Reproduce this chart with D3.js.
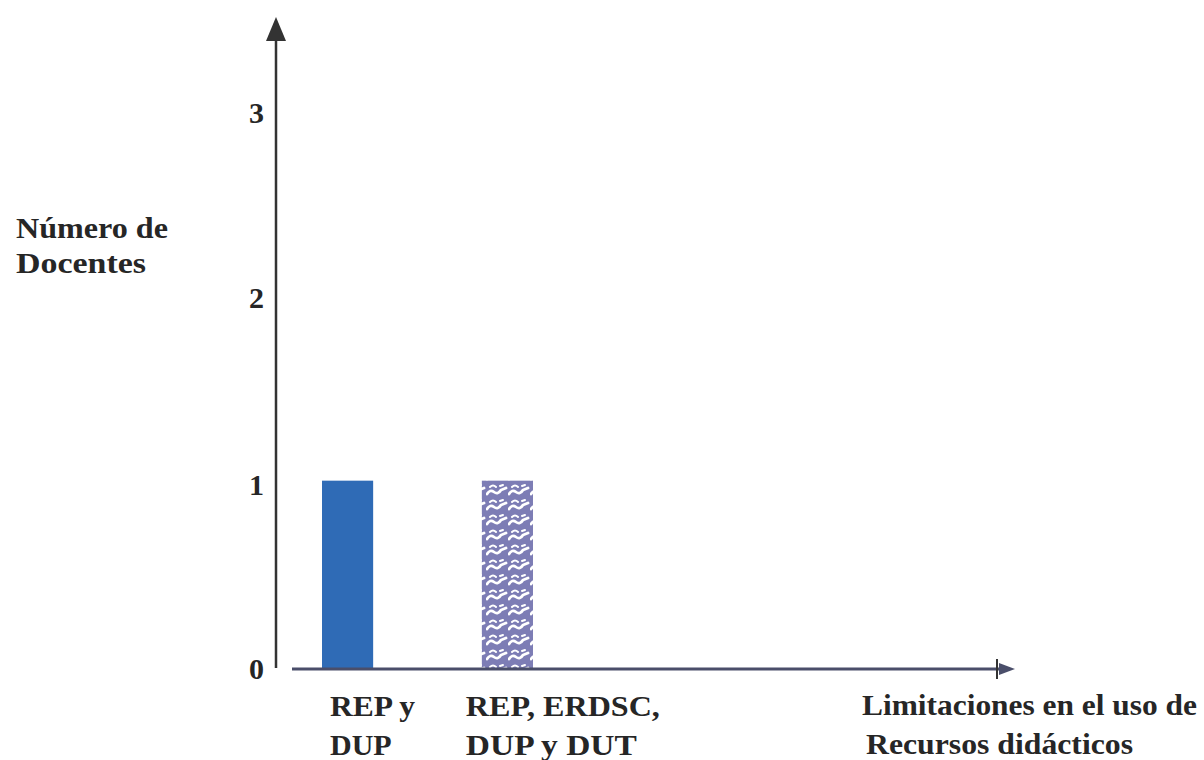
<!DOCTYPE html>
<html><head><meta charset="utf-8">
<script src="https://cdn.jsdelivr.net/npm/d3@7"></script>
<style>body{margin:0;background:#fff}svg{display:block}text{font-family:"Liberation Serif","Times New Roman",serif;font-weight:bold;fill:#262626}</style>
</head><body>
<svg id="c" width="1204" height="760"></svg>
<script>
const categories = [["REP y","DUP"],["REP, ERDSC,","DUP y DUT"]];
const categoryKeys = ["REP y DUP","REP, ERDSC, DUP y DUT"];
const values = [1, 1];
const yTicks = [0, 1, 2, 3];
const yTitle = ["Número de","Docentes"];
const xTitle = ["Limitaciones en el uso de","Recursos didácticos"];

const svg = d3.select("#c");
const defs = svg.append("defs");
const pat = defs.append("pattern").attr("id","wave").attr("patternUnits","userSpaceOnUse")
  .attr("width",22).attr("height",15).attr("x",2).attr("y",3);
pat.append("rect").attr("width",22).attr("height",15).attr("fill","#7d7db5");
pat.append("path").attr("d","M1,11 q3,-5 7,-2 t7,-2 l5,-2").attr("fill","none").attr("stroke","#fff").attr("stroke-width",2.8).attr("stroke-linecap","round");
pat.append("path").attr("d","M4,4 q3,-3 6,0 M14,3 l3,-1").attr("fill","none").attr("stroke","#fff").attr("stroke-width",2).attr("stroke-linecap","round");

const y = d3.scaleLinear().domain([0,3]).range([668,106]);
const x = d3.scaleBand().domain(categoryKeys).range([322,533]).paddingInner(0.68).paddingOuter(0);

const colors = ["#2f6bb6","url(#wave)"];
svg.selectAll("rect.bar").data(values).join("rect").attr("class","bar")
  .attr("x",(d,i)=>x(categoryKeys[i])).attr("width",x.bandwidth())
  .attr("y",d=>y(d)).attr("height",d=>y(0)-y(d)).attr("fill",(d,i)=>colors[i]);

// y axis
const axX = 276;
svg.append("line").attr("x1",axX).attr("x2",axX).attr("y1",y(0)).attr("y2",36)
  .attr("stroke","#333").attr("stroke-width",2.5);
svg.append("path").attr("d",`M${axX},17 L${axX-10},41 L${axX+10},41 Z`).attr("fill","#333");
svg.selectAll("text.yt").data(yTicks).join("text").attr("class","yt")
  .attr("x",264).attr("y",(d,i)=>y(d)+[0,4,4,6][i]).attr("dy","0.35em").attr("text-anchor","end")
  .attr("font-size",30).text(d=>d);

// x axis
svg.append("line").attr("x1",292).attr("x2",1005).attr("y1",y(0)+1).attr("y2",y(0)+1)
  .attr("stroke","#4a4e6a").attr("stroke-width",3);
svg.append("path").attr("d",`M1015,${y(0)+1} L999,${y(0)-5} L999,${y(0)+7} Z`).attr("fill","#4a4e6a");
svg.append("line").attr("x1",997).attr("x2",997).attr("y1",y(0)-9).attr("y2",y(0)+11).attr("stroke","#333").attr("stroke-width",2);

// category labels
const offs = [8,-16];
const lblW = [[85,null],[194,171]];
categories.forEach((lines,i)=>{
  lines.forEach((t,j)=>{
    const el = svg.append("text").attr("x",x(categoryKeys[i])+offs[i]).attr("y",716+j*39)
      .attr("font-size",30).text(t);
    if (lblW[i][j]) el.attr("textLength",lblW[i][j]).attr("lengthAdjust","spacingAndGlyphs");
  });
});

// titles
const yTW=[152,130];
yTitle.forEach((t,j)=>svg.append("text").attr("x",16).attr("y",238+j*35).attr("font-size",29)
  .attr("textLength",yTW[j]).attr("lengthAdjust","spacingAndGlyphs").text(t));
const xTW=[335,267];
xTitle.forEach((t,j)=>svg.append("text").attr("x",862+j*4).attr("y",715+j*39).attr("font-size",30)
  .attr("textLength",xTW[j]).attr("lengthAdjust","spacingAndGlyphs").text(t));
</script>
</body></html>
